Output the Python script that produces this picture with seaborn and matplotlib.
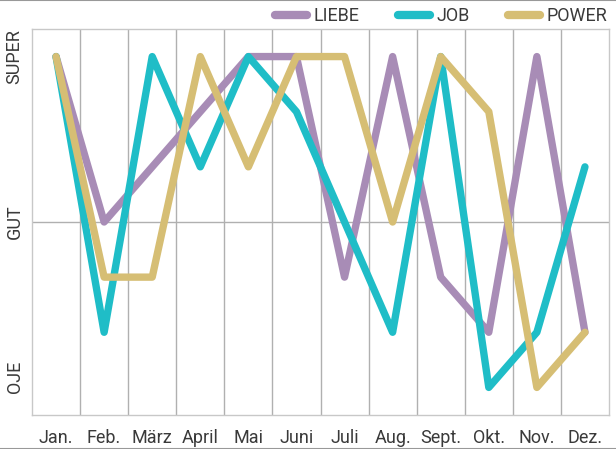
import matplotlib
matplotlib.use("Agg")
import matplotlib.pyplot as plt
from matplotlib.lines import Line2D
import seaborn as sns
import pandas as pd
import numpy as np

months = ["Jan.", "Feb.", "März", "April", "Mai", "Juni", "Juli", "Aug.", "Sept.", "Okt.", "Nov.", "Dez."]
liebe = [6, 3, 4, 5, 6, 6, 2, 6, 2, 1, 6, 1]
job = [6, 1, 6, 4, 6, 5, 3, 1, 6, 0, 1, 4]
power = [6, 2, 2, 6, 4, 6, 6, 3, 6, 5, 0, 1]
series_names = ["LIEBE", "JOB", "POWER"]
colors = ["#A88CB6", "#1FBDC7", "#D6BE74"]
y_levels = [6, 3, 0.2]
y_labels = ["SUPER", "GUT", "OJE"]

sns.set_theme(style="white")
plt.rcParams["font.family"] = ["Roboto", "DejaVu Sans"]

rows = []
for name, vals in zip(series_names, [liebe, job, power]):
    for i, v in enumerate(vals):
        rows.append({"idx": i, "value": v, "series": name})
df = pd.DataFrame(rows)

fig = plt.figure(figsize=(6.16, 4.49), dpi=100)
ax = fig.add_axes([32/616, 1-415/449, (609-32)/616, (415-29)/449])

sns.lineplot(data=df, x="idx", y="value", hue="series", hue_order=series_names,
             palette=colors, linewidth=5.3, sort=False, ax=ax,
             solid_joinstyle="round", solid_capstyle="round", legend=False)

ax.set_xlim(-0.5, len(months) - 0.5)
ax.set_ylim(-0.5, 6.5)
ax.set_xticks(range(len(months)))
ax.set_xticklabels(months, fontsize=13, color="#3a3a3a")
ax.set_xticks(np.arange(0.5, len(months) - 1, 1), minor=True)
ax.grid(False)
ax.grid(True, which="minor", axis="x", color="#b0b0b0", linewidth=1)
ax.axhline(3, color="#b0b0b0", linewidth=1, zorder=0)
ax.set_yticks(y_levels)
ax.set_yticklabels(y_labels, rotation=90, va="center", fontsize=13, color="#3a3a3a")
ax.tick_params(axis="both", which="both", length=0)
ax.tick_params(axis="x", pad=10)
ax.tick_params(axis="y", pad=6)
ax.set_xlabel("")
ax.set_ylabel("")
for s in ax.spines.values():
    s.set_color("#c8c8c8")
    s.set_linewidth(1)

handles = [Line2D([0], [0], color=c, linewidth=6, solid_capstyle="round") for c in colors]
fig.legend(handles, series_names, loc="upper right", bbox_to_anchor=(1.012, 1.02),
           ncol=3, frameon=False, fontsize=13, handlelength=1.8, handletextpad=0.35,
           columnspacing=2.1, labelcolor="#3a3a3a")

fig.add_artist(Line2D([0, 1], [0.999, 0.999], transform=fig.transFigure, color="#999999", linewidth=1.5))
fig.add_artist(Line2D([0, 1], [0.001, 0.001], transform=fig.transFigure, color="#999999", linewidth=1.5))

fig.savefig("out.png", dpi=100)
